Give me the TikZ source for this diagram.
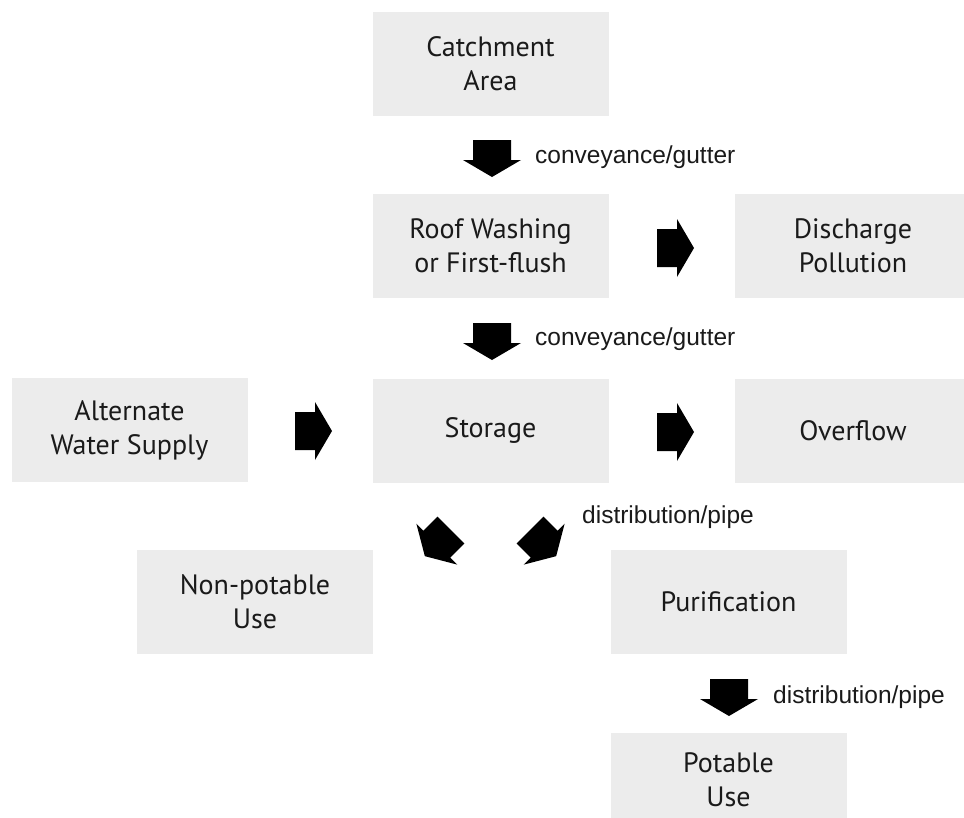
\documentclass[tikz,border=0pt]{standalone}
\usepackage{fontspec}
\setmainfont{PT Sans}
\newfontfamily\labelfont{Liberation Sans}
\definecolor{boxgray}{RGB}{236,236,236}
\definecolor{textgray}{RGB}{26,26,26}
\tikzset{
  boxtext/.style={inner sep=0pt, align=center, text=textgray, font=\fontsize{28}{34}\selectfont},
  box/.style={boxtext, fill=boxgray, draw=none, minimum width=236pt, minimum height=104pt},
  flowlabel/.style={anchor=base west, inner sep=0pt, text=textgray,
    font=\labelfont\fontsize{24.5}{28}\selectfont},
  barrow/.pic={\fill[black] (0,-19) -- (20,-19) -- (20,-29) -- (37,0) -- (20,29) -- (20,19) -- (0,19) -- cycle;}
}
\begin{document}
\begin{tikzpicture}[x=1pt, y=-1pt]
\useasboundingbox (0,0) rectangle (964,817);
\clip (0,0) rectangle (964,817);
\fill[white] (0,0) rectangle (964,817);
% boxes
\node[box] (catch) at (490.5,63.5) {Catchment\\Area};
\node[box] (roof) at (490.5,246) {Roof Washing\\or First-flush};
\node[box] (disch) at (853,246) {Discharge\\Pollution};
\node[box] (stor) at (490.5,430.5) {Storage};
\node[box] (alt) at (129.5,430) {Alternate\\Water Supply};
\node[box] (over) at (853,430.5) {Overflow};
\node[box] (nonp) at (255,601.5) {Non-potable\\Use};
\node[box] (puri) at (728.5,601.5) {Purification};
\node[box] (pot) at (728.5,785) {};
\node[boxtext] (pottext) at ([yshift=5pt]pot.center) {Potable\\Use};
% block arrows
\pic[rotate=-90] at (492,140) {barrow};
\pic[rotate=-90] at (492,323) {barrow};
\pic at (657,248) {barrow};
\pic at (657,432) {barrow};
\pic at (295,431) {barrow};
\pic[rotate=-135] at (451,530) {barrow};
\pic[rotate=-45] at (530,530) {barrow};
\pic[rotate=-90] at (729,679) {barrow};
% labels
\node[flowlabel] (l1) at (535,163) {conveyance/gutter};
\node[flowlabel] (l2) at (535,345) {conveyance/gutter};
\node[flowlabel] (l3) at (582,523) {distribution/pipe};
\node[flowlabel] (l4) at (773,703) {distribution/pipe};
\end{tikzpicture}
\end{document}
